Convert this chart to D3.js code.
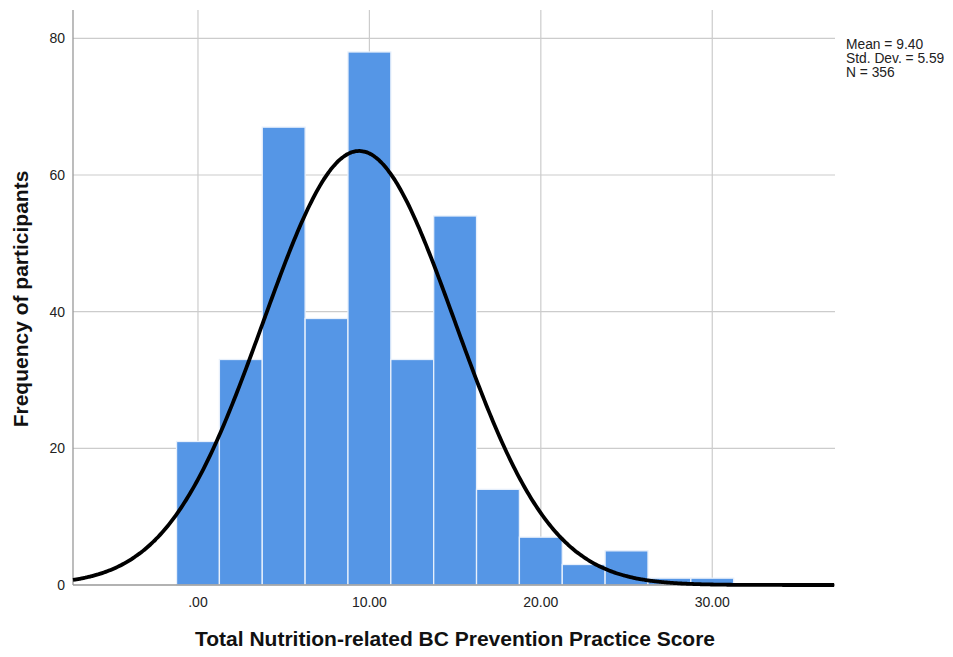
<!DOCTYPE html>
<html><head><meta charset="utf-8">
<script src="https://cdn.jsdelivr.net/npm/d3@7"></script>
<style>body{margin:0;background:#fff}svg{display:block;font-family:"Liberation Sans",Arial,sans-serif}</style>
</head><body>
<svg id="c" width="953" height="657"></svg>
<script>
const binStarts = [-1.25, 1.25, 3.75, 6.25, 8.75, 11.25, 13.75, 16.25, 18.75, 21.25, 23.75, 26.25, 28.75];
const binWidth = 2.5;
const counts = [21, 33, 67, 39, 78, 33, 54, 14, 7, 3, 5, 1, 1];
const xTicks = [0, 10, 20, 30];
const xTickLabels = [".00", "10.00", "20.00", "30.00"];
const yTicks = [0, 20, 40, 60, 80];
const stats = {mean: 9.40, sd: 5.59, n: 356};
const statLines = ["Mean = 9.40", "Std. Dev. = 5.59", "N = 356"];

const svg = d3.select("#c");
const L = 73, R = 835, T = 10, B = 585;
const x = d3.scaleLinear().domain([-7.29, 37.16]).range([L, R]);
const y = d3.scaleLinear().domain([0, 80]).range([B, 38.3]);

// gridlines
svg.append("g").selectAll("line").data(yTicks.filter(d => d > 0)).join("line")
  .attr("x1", L).attr("x2", R).attr("y1", d => y(d)).attr("y2", d => y(d))
  .attr("stroke", "#cccccc").attr("stroke-width", 1.2);
svg.append("g").selectAll("line").data(xTicks).join("line")
  .attr("x1", d => x(d)).attr("x2", d => x(d)).attr("y1", T).attr("y2", B)
  .attr("stroke", "#cccccc").attr("stroke-width", 1.2);

// bars
svg.append("g").selectAll("rect").data(counts).join("rect")
  .attr("x", (d, i) => x(binStarts[i]))
  .attr("width", (d, i) => x(binStarts[i] + binWidth) - x(binStarts[i]))
  .attr("y", d => y(d)).attr("height", d => B - y(d))
  .attr("fill", "#5596e6").attr("stroke", "#e8f0fb").attr("stroke-width", 1.3);

// axes lines
svg.append("line").attr("x1", L).attr("x2", L).attr("y1", T).attr("y2", B).attr("stroke", "#999").attr("stroke-width", 1.3);
svg.append("line").attr("x1", L).attr("x2", R).attr("y1", B).attr("y2", B).attr("stroke", "#999").attr("stroke-width", 1.3);

// normal curve from stated mean, sd, n
const xs = d3.range(x.domain()[0], x.domain()[1] + 0.001, 0.1);
const pdf = v => stats.n * binWidth / (stats.sd * Math.sqrt(2 * Math.PI)) * Math.exp(-0.5 * ((v - stats.mean) / stats.sd) ** 2);
svg.append("path").datum(xs)
  .attr("d", d3.line().x(d => x(d)).y(d => y(pdf(d))).curve(d3.curveBasis))
  .attr("fill", "none").attr("stroke", "#000").attr("stroke-width", 3.8);

// tick labels
svg.append("g").selectAll("text").data(yTicks).join("text")
  .attr("x", 65).attr("y", d => y(d) + 5).attr("text-anchor", "end")
  .attr("font-size", 14).attr("fill", "#222").text(d => d);
svg.append("g").selectAll("text").data(xTicks).join("text")
  .attr("x", d => x(d)).attr("y", 607).attr("text-anchor", "middle")
  .attr("font-size", 14).attr("fill", "#222").text((d, i) => xTickLabels[i]);

// axis titles
svg.append("text").attr("x", 455).attr("y", 646).attr("text-anchor", "middle")
  .attr("font-size", 21).attr("font-weight", "bold").attr("fill", "#111")
  .text("Total Nutrition-related BC Prevention Practice Score");
svg.append("text").attr("transform", "translate(28,299) rotate(-90)").attr("text-anchor", "middle")
  .attr("font-size", 21).attr("font-weight", "bold").attr("fill", "#111")
  .text("Frequency of participants");

// stats
svg.append("g").selectAll("text").data(statLines).join("text")
  .attr("x", 846).attr("y", (d, i) => 49 + i * 14)
  .attr("font-size", 13.8).attr("fill", "#222").text(d => d);
</script>
</body></html>
